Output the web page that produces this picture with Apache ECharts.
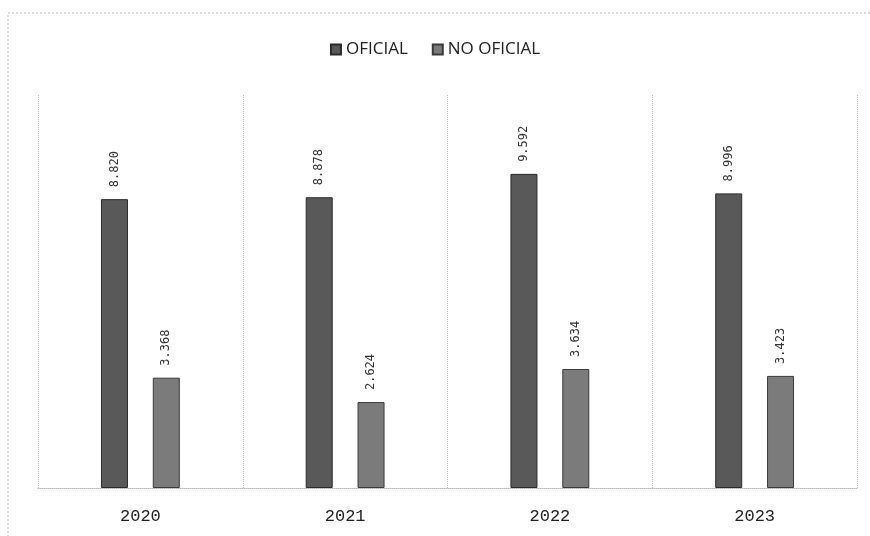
<!DOCTYPE html>
<html><head><meta charset="utf-8">
<script src="https://cdn.jsdelivr.net/npm/echarts@6/dist/echarts.min.js"></script>
<style>html,body{margin:0;padding:0;background:#fff}#c{width:870px;height:536px}</style>
</head><body><div id="c"></div>
<script>
const years = ['2020', '2021', '2022', '2023'];
const oficial = [8820, 8878, 9592, 8996];
const noOficial = [3368, 2624, 3634, 3423];
const seriesNames = ['OFICIAL', 'NO OFICIAL'];

function fmt(v) { return String(v).replace(/\B(?=(\d{3})+(?!\d))/g, '.'); }

const chart = echarts.init(document.getElementById('c'), null, {renderer: 'canvas'});
const label = {
  show: true, position: 'top', rotate: 90, align: 'left', verticalAlign: 'middle',
  distance: 12, color: '#333', fontSize: 12, fontFamily: 'DejaVu Sans Mono',
  formatter: p => fmt(p.value)
};
chart.setOption({
  animation: false,
  backgroundColor: '#fff',
  legend: {
    top: 36, left: 'center', itemWidth: 10, itemHeight: 10, itemGap: 24,
    icon: 'rect',
    textStyle: {fontSize: 17, color: '#222', fontFamily: 'Open Sans'},
    data: seriesNames
  },
  grid: {left: 38, right: 13, top: 95, bottom: 48, containLabel: false},
  xAxis: {
    type: 'category', data: years,
    axisLine: {lineStyle: {color: '#bbb', type: 'dotted'}},
    axisTick: {show: false},
    splitLine: {show: true, lineStyle: {color: '#bbb', type: 'dotted'}},
    axisLabel: {margin: 20, fontSize: 17, color: '#222', fontFamily: 'Liberation Mono'}
  },
  yAxis: {type: 'value', min: 0, max: 12000, show: false, splitLine: {show: false}},
  series: [
    {name: seriesNames[0], type: 'bar', data: oficial, barWidth: 27, barGap: '92%',
     itemStyle: {color: '#595959', borderColor: '#2a2a2a', borderWidth: 1}, label: label},
    {name: seriesNames[1], type: 'bar', data: noOficial, barWidth: 27,
     itemStyle: {color: '#7b7b7b', borderColor: '#3a3a3a', borderWidth: 1}, label: label}
  ],
  graphic: [{type: 'rect', shape: {x: 8, y: 13, width: 880, height: 540},
    style: {fill: 'none', stroke: '#bbb', lineWidth: 1, lineDash: [2, 2]}}]
});
</script></body></html>
